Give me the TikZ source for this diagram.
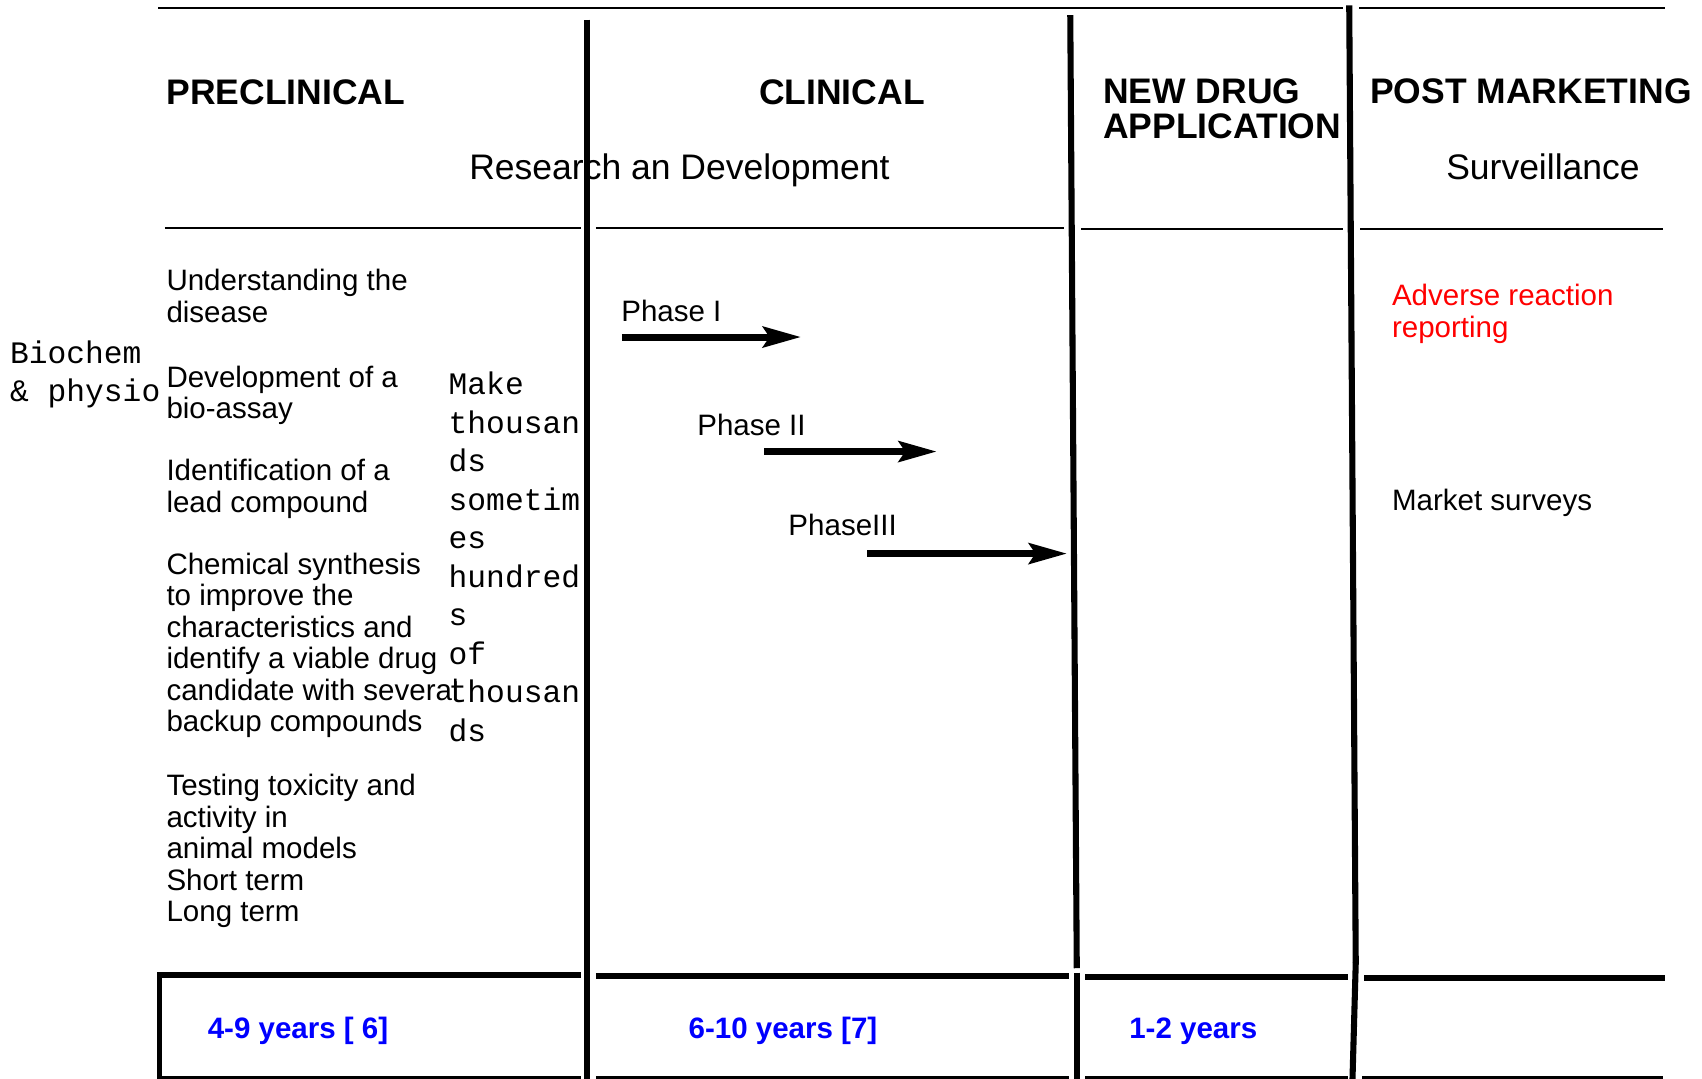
\documentclass[tikz,border=0pt]{standalone}
\usepackage{fontspec}
\setmainfont{Liberation Sans}
\newfontfamily\monofont{Liberation Mono}
\usetikzlibrary{arrows.meta}
\begin{document}
\begin{tikzpicture}[x=0.5pt,y=-0.5pt,
  thinrule/.style={line width=1pt},
  vrule/.style={line width=2.8pt},
  baserule/.style={line width=2.6pt},
  lowrule/.style={line width=1.3pt},
  % multi-line nodes: the base anchor sits on the LAST line's baseline
  txt/.style={anchor=base west, inner sep=0pt, align=left,
    font=\fontsize{13.6pt}{14.5pt}\selectfont},
  head/.style={anchor=base west, inner sep=0pt, align=left,
    font=\fontsize{16.35pt}{16.5pt}\selectfont\bfseries},
  sub/.style={anchor=base west, inner sep=0pt,
    font=\fontsize{16.35pt}{16.5pt}\selectfont},
  mono/.style={anchor=base west, inner sep=0pt, align=left,
    font=\fontsize{14.4pt}{17.75pt}\monofont},
  years/.style={anchor=base west, inner sep=0pt, text=blue,
    font=\fontsize{13.6pt}{14.5pt}\selectfont\bfseries},
  phasearrow/.style={line width=3.2pt,
    -{Stealth[length=17.5pt,width=9.5pt,inset=3pt]}}
]
\fill[white] (0,0) rectangle (1568,994);
\useasboundingbox (0,0) rectangle (1568,994);

% ---- table rules ----
\draw[thinrule] (146,7) -- (1237,7);
\draw[thinrule] (1252,7) -- (1534,7);
\draw[thinrule] (152,210) -- (535,210);
\draw[thinrule] (549,210) -- (980,210);
\draw[thinrule] (996,211) -- (1237,211);
\draw[thinrule] (1253,211) -- (1532,211);

\draw[vrule] (541,18) -- (541,994);
\draw[vrule] (986,14) -- (992,892);
\draw[vrule] (992,896) -- (992,994);
\draw[vrule] (1243,5) -- (1249,887);
\draw[vrule] (1249,887) -- (1246,994);

\draw[baserule] (145,898) -- (535,898);
\draw[baserule] (549,899) -- (985,899);
\draw[baserule] (1000,900) -- (1242,900);
\draw[baserule] (1257,901) -- (1534,901);
\draw[line width=2pt] (147,898) -- (147,994);
\draw[lowrule] (145,993) -- (535,993);
\draw[lowrule] (549,993) -- (985,993);
\draw[lowrule] (1000,993) -- (1242,993);
\draw[lowrule] (1255,993) -- (1532,993);

% ---- headers ----
\node[head] (pre) at (153,96) {PRECLINICAL};
\node[head] (cli) at (699,96) {CLINICAL};
\node[head] (nda) at (1016,128) {NEW DRUG\\APPLICATION};
\node[head] (post) at (1262,95) {POST MARKETING};
\node[sub] (rd) at (432,165) {Research an Development};
\node[sub] (surv) at (1332,165) {Surveillance};

% ---- preclinical column ----
\node[mono] (bio) at (9,370) {Biochem\\\& physio};
\node[txt] (t1) at (153,297) {Understanding the\\disease};
\node[txt] (t2) at (153,386) {Development of a\\bio-assay};
\node[txt] (t3) at (153,472) {Identification of a\\lead compound};
\node[txt] (t4) at (153,674) {Chemical synthesis\\to improve the\\characteristics and\\identify a viable drug\\candidate with several\\backup compounds};
\node[txt] (t5) at (153,849) {Testing toxicity and\\activity in\\animal models\\Short term\\Long term};
\node[mono] (make) at (413,683) {Make\\thousan\\ds\\sometim\\es\\hundred\\s\\of\\thousan\\ds};

% ---- clinical phases ----
\node[txt] (p1) at (572,296) {Phase I};
\node[txt] (p2) at (642,401) {Phase II};
\node[txt] (p3) at (726,493) {PhaseIII};
\coordinate (a1s) at (573,310.5);
\coordinate (a1e) at (738,310.5);
\coordinate (a2s) at (704,416);
\coordinate (a2e) at (863,416);
\coordinate (a3s) at (799,510);
\coordinate (a3e) at (983,510);
\draw[phasearrow] (a1s) -- (a1e);
\draw[phasearrow] (a2s) -- (a2e);
\draw[phasearrow] (a3s) -- (a3e);

% ---- post marketing ----
\node[txt, text=red, font=\fontsize{13.6pt}{15pt}\selectfont] (adv) at (1282,311) {Adverse reaction\\reporting};
\node[txt] (mkt) at (1282,470) {Market surveys};

% ---- durations ----
\node[years] (y1) at (191,957) {4-9 years [ 6]};
\node[years] (y2) at (634,957) {6-10 years [7]};
\node[years] (y3) at (1040,957) {1-2 years};
\end{tikzpicture}
\end{document}
